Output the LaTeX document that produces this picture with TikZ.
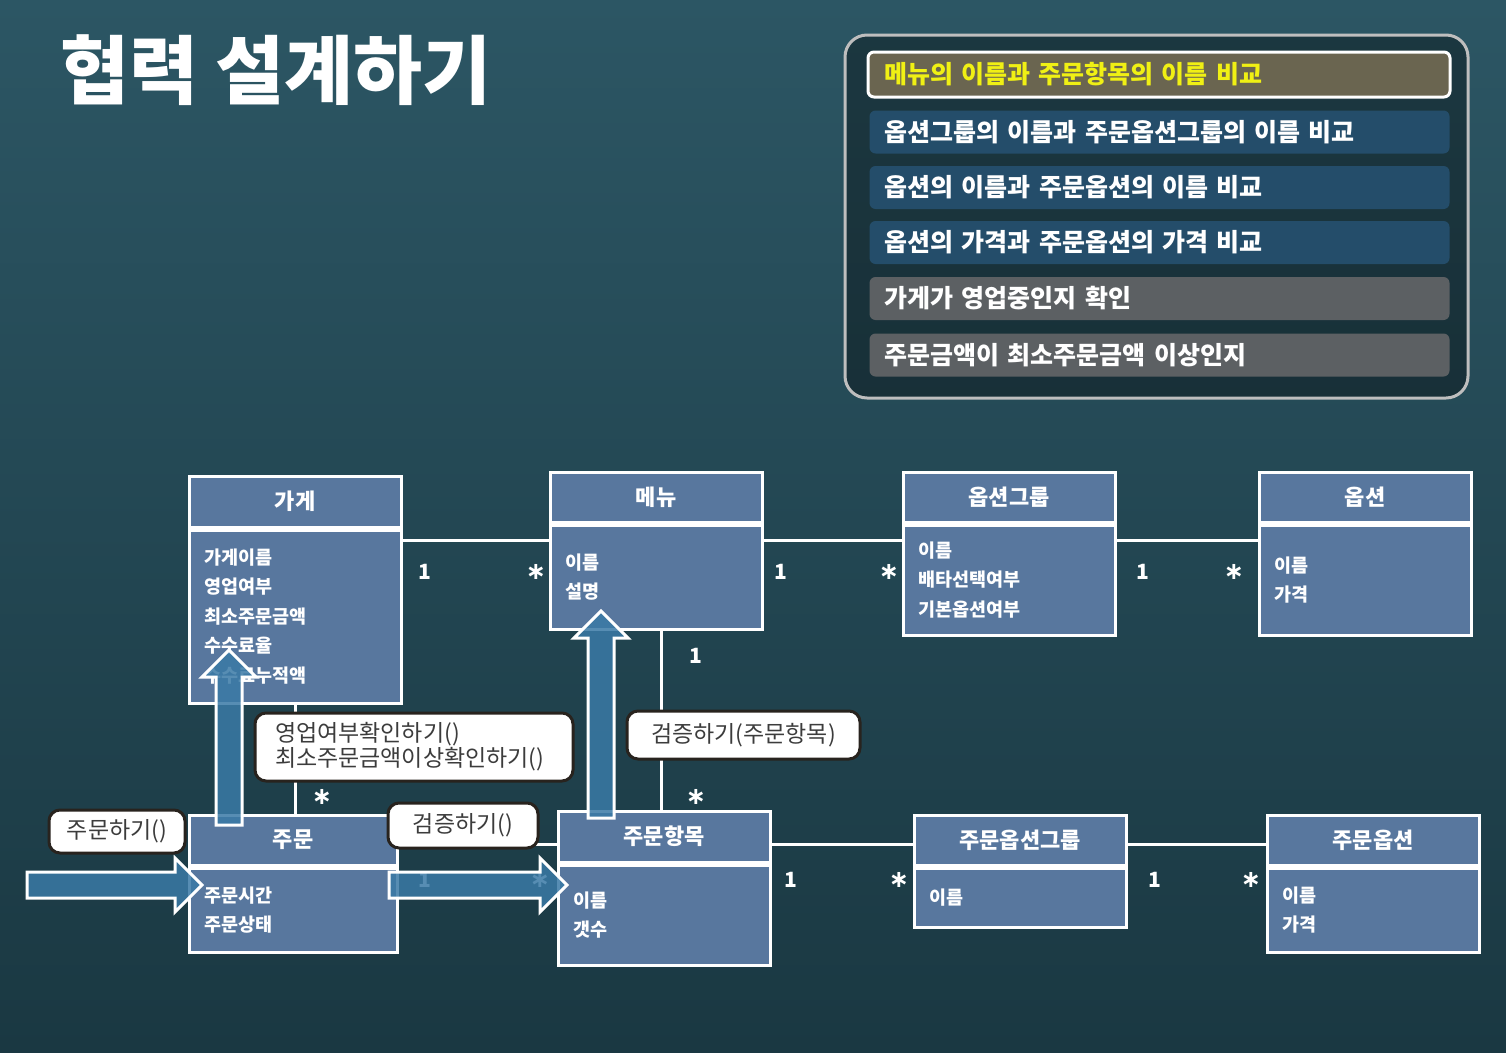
\documentclass[tikz,border=0pt]{standalone}
\usepackage{fontspec}
\setmainfont{Noto Sans CJK KR}
\newfontfamily\symfont{DejaVu Sans}
\usetikzlibrary{calc}

\definecolor{bgtop}{RGB}{44,86,100}
\definecolor{bgbot}{RGB}{26,56,66}
\definecolor{clsfill}{RGB}{88,119,158}
\definecolor{arrfill}{RGB}{58,122,166}
\definecolor{panelline}{RGB}{190,190,190}
\definecolor{rowhi}{RGB}{106,101,80}
\definecolor{rowblue}{RGB}{36,77,106}
\definecolor{rowgray}{RGB}{92,96,99}
\definecolor{msgtext}{RGB}{60,60,60}
\definecolor{msgline}{RGB}{40,35,30}
\definecolor{hiyellow}{RGB}{240,240,20}

% Blockpfeil von #1 (Ende) nach #2 (Spitze)
\newcommand\blockarrow[2]{%
  \coordinate (bh) at ($(#2)!27pt!(#1)$);
  \filldraw[barr] ($(#1)!13pt!90:(#2)$) -- ($(bh)!13pt!-90:(#1)$) -- ($(bh)!27pt!-90:(#1)$)
    -- (#2) -- ($(bh)!27pt!90:(#1)$) -- ($(bh)!13pt!90:(#1)$) -- ($(#1)!13pt!-90:(#2)$) -- cycle;}

\begin{document}
\begin{tikzpicture}[x=1pt, y=-1pt,
  cls/.style={draw=white, line width=3pt, fill=clsfill, text=white, inner sep=0pt,
    font=\fontsize{22}{26}\selectfont\bfseries, minimum width=212pt, minimum height=50pt},
  clsbody/.style={cls, anchor=north, align=left, text width=182pt, inner xsep=15pt,
    font=\fontsize{18.5}{29.5}\selectfont\bfseries},
  assoc/.style={draw=white, line width=3pt},
  mult/.style={text=white, inner sep=0pt, font=\fontsize{21}{24}\selectfont\bfseries},
  star/.style={mult, font=\symfont\fontsize{24}{24}\selectfont\bfseries},
  msg/.style={draw=msgline, line width=3pt, fill=white, rounded corners=11pt, text=msgtext,
    inner sep=0pt, font=\fontsize{23}{25}\selectfont},
  row/.style={rounded corners=6pt, minimum width=580pt, minimum height=43pt, text width=550pt,
    inner xsep=15pt, align=left, text=white, font=\fontsize{25}{28}\selectfont\bfseries},
  barr/.style={fill=arrfill, fill opacity=0.85, draw=white, line width=3pt}]

% Hintergrund
\shade[top color=bgtop, bottom color=bgbot] (0,0) rectangle (1506,1052);

% Titel
\node[anchor=west, text=white, inner sep=0pt, font=\fontsize{75}{78}\selectfont\bfseries] (title) at (60,70) {협력 설계하기};

% Liste oben rechts
\node[draw=panelline, line width=3pt, fill=black, fill opacity=0.35, rounded corners=22pt,
  minimum width=623pt, minimum height=363pt] (panel) at (1156.5,216.5) {};
\node[row, fill=rowhi, draw=white, line width=3pt, text=hiyellow, minimum width=582pt, minimum height=45pt] (r1) at (1159,74.5) {메뉴의 이름과 주문항목의 이름 비교};
\node[row, fill=rowblue] (r2) at (1159.5,132)   {옵션그룹의 이름과 주문옵션그룹의 이름 비교};
\node[row, fill=rowblue] (r3) at (1159.5,187.5) {옵션의 이름과 주문옵션의 이름 비교};
\node[row, fill=rowblue] (r4) at (1159.5,242.5) {옵션의 가격과 주문옵션의 가격 비교};
\node[row, fill=rowgray] (r5) at (1159.5,298.5) {가게가 영업중인지 확인};
\node[row, fill=rowgray] (r6) at (1159.5,355)   {주문금액이 최소주문금액 이상인지};

% Klassen oben
\node[cls, minimum height=51pt] (store) at (295,501.5) {가게};
\node[clsbody, minimum height=173pt] (storeB) at (store.south) {가게이름\\영업여부\\최소주문금액\\수수료율\\수수료누적액};
\node[cls] (menu) at (656,497) {메뉴};
\node[clsbody, minimum height=104pt] (menuB) at (menu.south) {이름\\설명};
\node[cls] (optgrp) at (1009,497) {옵션그룹};
\node[clsbody, minimum height=110pt] (optgrpB) at (optgrp.south) {이름\\배타선택여부\\기본옵션여부};
\node[cls] (opt) at (1365,497) {옵션};
\node[clsbody, minimum height=110pt] (optB) at (opt.south) {이름\\가격};

% Klassen unten
\node[cls, minimum width=208pt] (order) at (293,840) {주문};
\node[clsbody, minimum width=208pt, text width=178pt, minimum height=84pt] (orderB) at (order.south) {주문시간\\주문상태};
\node[cls, minimum height=51pt] (item) at (664,836.5) {주문항목};
\node[clsbody, minimum height=100pt] (itemB) at (item.south) {이름\\갯수};
\node[cls] (ogrp) at (1020,840) {주문옵션그룹};
\node[clsbody, minimum height=59pt] (ogrpB) at (ogrp.south) {이름};
\node[cls] (oopt) at (1373,840) {주문옵션};
\node[clsbody, minimum height=84pt] (ooptB) at (oopt.south) {이름\\가격};

% Assoziationen
\draw[assoc] ([yshift=-12pt]storeB.north east) -- ([yshift=-17pt]menuB.north west);
\draw[assoc] ([yshift=-17pt]menuB.north east) -- ([yshift=-17pt]optgrpB.north west);
\draw[assoc] ([yshift=-17pt]optgrpB.north east) -- ([yshift=-17pt]optB.north west);
\draw[assoc] (storeB.south) -- (storeB.south |- order.north);
\draw[assoc] ([xshift=5pt]menuB.south) -- ([xshift=5pt]menuB.south |- item.north);
\draw[assoc] ([yshift=-31pt]order.north east) -- ([yshift=-35pt]item.north west);
\draw[assoc] ([yshift=-35pt]item.north east) -- ([yshift=-31pt]ogrp.north west);
\draw[assoc] ([yshift=-31pt]ogrp.north east) -- ([yshift=-31pt]oopt.north west);

% Multiplizitaeten
\node[mult] (m1)  at (425,572) {1};
\node[star] (m2)  at (536,572) {∗};
\node[mult] (m3)  at (781,572) {1};
\node[star] (m4)  at (889,572) {∗};
\node[mult] (m5)  at (1143,572) {1};
\node[star] (m6)  at (1234,572) {∗};
\node[mult] (m7)  at (696,656) {1};
\node[star] (m8)  at (696,797) {∗};
\node[star] (m9)  at (322,797) {∗};
\node[mult] (m10) at (425,880) {1};
\node[star] (m11) at (540,880) {∗};
\node[mult] (m12) at (791,880) {1};
\node[star] (m13) at (899,880) {∗};
\node[mult] (m14) at (1155,880) {1};
\node[star] (m15) at (1251,880) {∗};

% Nachrichtenpfeile
\coordinate (inT)  at (27,885);  \coordinate (inH)  at (202,885);
\coordinate (chkT) at (389,885); \coordinate (chkH) at (567,885);
\coordinate (upAT) at (229,825); \coordinate (upAH) at (229,650);
\coordinate (upBT) at (601,818); \coordinate (upBH) at (601,611);
\blockarrow{inT}{inH}
\blockarrow{chkT}{chkH}
\blockarrow{upAT}{upAH}
\blockarrow{upBT}{upBH}

% Nachrichten
\node[msg, minimum width=136pt, minimum height=43pt] (callOrder) at (117,831.5) {주문하기()};
\node[msg, minimum width=318pt, minimum height=68pt, text width=278pt, inner xsep=20pt, align=left] (callStore) at (414,747) {영업여부확인하기()\\최소주문금액이상확인하기()};
\node[msg, minimum width=150pt, minimum height=45pt] (callCheck) at (463,825.5) {검증하기()};
\node[msg, minimum width=233pt, minimum height=48pt] (callMenu) at (743.5,735) {검증하기(주문항목)};
\end{tikzpicture}
\end{document}
